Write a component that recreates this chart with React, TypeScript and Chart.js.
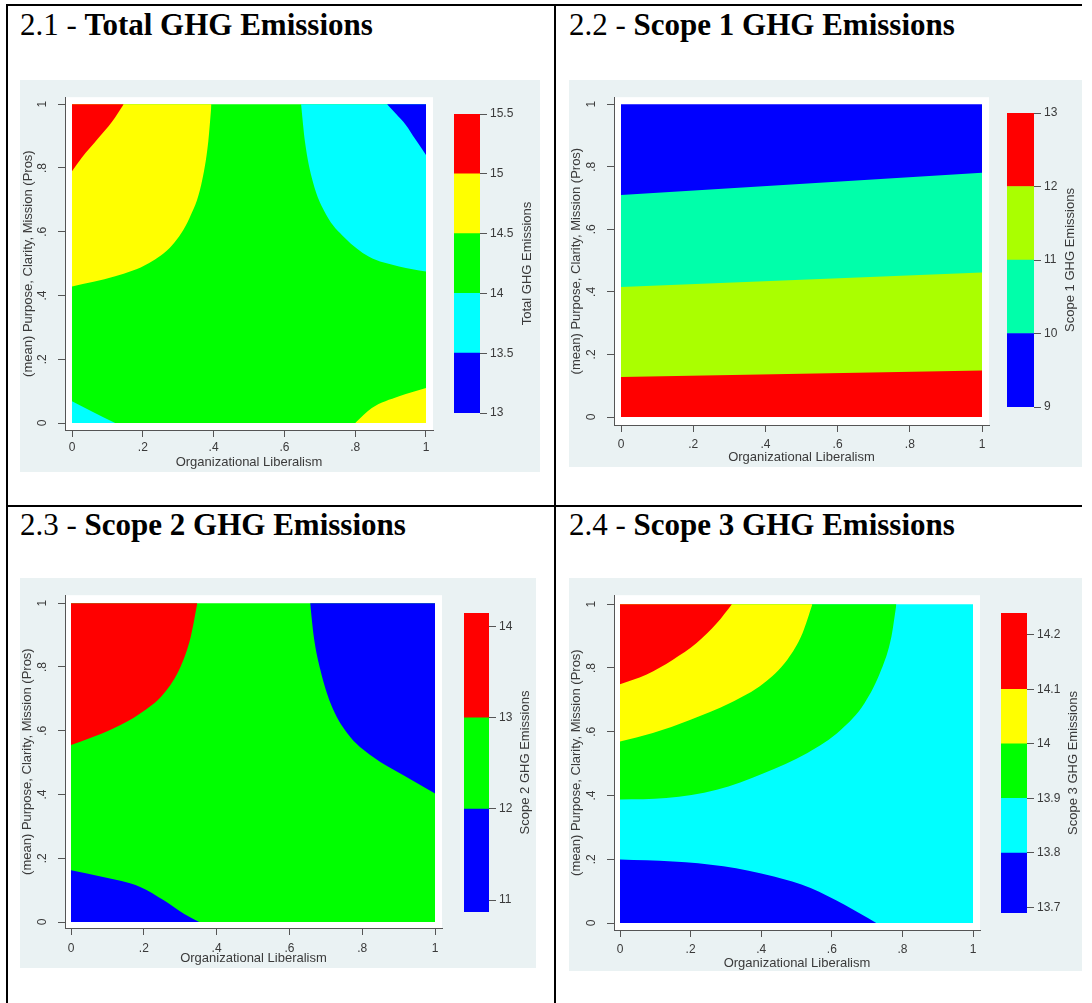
import React, { useEffect, useRef } from "react";
import { Chart, registerables } from "chart.js";
Chart.register(...registerables);

// ---------------- data ----------------
const xTickValues = [0, 0.2, 0.4, 0.6, 0.8, 1];
const xTickLabels = ["0", ".2", ".4", ".6", ".8", "1"];
const yTickValues = [0, 0.2, 0.4, 0.6, 0.8, 1];
const yTickLabels = ["0", ".2", ".4", ".6", ".8", "1"];
const xAxisTitle = "Organizational Liberalism";
const yAxisTitle = "(mean) Purpose, Clarity, Mission (Pros)";

const panelNumbers = ["2.1", "2.2", "2.3", "2.4"];
const panelNames = ["Total GHG Emissions", "Scope 1 GHG Emissions", "Scope 2 GHG Emissions", "Scope 3 GHG Emissions"];

// 2.1 Total GHG Emissions
const totalBandEdges = [13, 13.5, 14, 14.5, 15, 15.5];
const totalZTicks = [13, 13.5, 14, 14.5, 15, 15.5];
const totalZTickLabels = ["13", "13.5", "14", "14.5", "15", "15.5"];
const total150TopLeft = [[0, 0.79], [0.027, 0.831], [0.074, 0.893], [0.113, 0.945], [0.146, 1]];
const total145TopLeft = [[0, 0.428], [0.122, 0.46], [0.218, 0.502], [0.284, 0.559], [0.332, 0.643], [0.365, 0.747], [0.385, 0.883], [0.394, 1]];
const total135TopRight = [[0.89, 1], [0.915, 0.97], [0.943, 0.935], [0.97, 0.89], [1, 0.841]];
const total140TopRight = [[0.647, 1], [0.658, 0.883], [0.68, 0.758], [0.718, 0.653], [0.771, 0.58], [0.838, 0.522], [0.924, 0.491], [1, 0.475]];
const total140BottomLeft = [[0, 0.068], [0.055, 0.037], [0.122, 0]];
const total145BottomRight = [[0.8, 0], [0.847, 0.047], [0.924, 0.084], [1, 0.11]];

// 2.2 Scope 1
const scope1BandEdges = [9, 10, 11, 12, 13];
const scope1ZTicks = [9, 10, 11, 12, 13];
const scope1ZTickLabels = ["9", "10", "11", "12", "13"];
const scope1Line12 = [[0, 0.128], [1, 0.149]];
const scope1Line11 = [[0, 0.416], [1, 0.462]];
const scope1Line10 = [[0, 0.71], [1, 0.781]];

// 2.3 Scope 2
const scope2BandEdges = [10.87, 12, 13, 14.15];
const scope2ZTicks = [11, 12, 13, 14];
const scope2ZTickLabels = ["11", "12", "13", "14"];
const scope2C13TopLeft = [[0, 0.555], [0.051, 0.576], [0.116, 0.607], [0.19, 0.654], [0.255, 0.717], [0.301, 0.801], [0.329, 0.895], [0.347, 1]];
const scope2C12TopRight = [[0.657, 1], [0.667, 0.895], [0.685, 0.791], [0.713, 0.686], [0.759, 0.592], [0.829, 0.518], [0.912, 0.461], [1, 0.403]];
const scope2C12BottomLeft = [[0, 0.162], [0.088, 0.141], [0.19, 0.11], [0.255, 0.068], [0.31, 0.026], [0.352, 0]];

// 2.4 Scope 3
const scope3BandEdges = [13.69, 13.8, 13.9, 14.0, 14.1, 14.24];
const scope3ZTicks = [13.7, 13.8, 13.9, 14.0, 14.1, 14.2];
const scope3ZTickLabels = ["13.7", "13.8", "13.9", "14", "14.1", "14.2"];
const scope3C141 = [[0, 0.749], [0.074, 0.779], [0.15, 0.826], [0.217, 0.878], [0.274, 0.94], [0.317, 1]];
const scope3C140 = [[0, 0.569], [0.093, 0.596], [0.198, 0.637], [0.312, 0.69], [0.407, 0.752], [0.474, 0.826], [0.517, 0.909], [0.545, 1]];
const scope3C139 = [[0, 0.387], [0.131, 0.392], [0.274, 0.418], [0.407, 0.47], [0.531, 0.533], [0.626, 0.606], [0.693, 0.69], [0.74, 0.794], [0.769, 0.899], [0.783, 1]];
const scope3C138 = [[0, 0.199], [0.15, 0.193], [0.293, 0.178], [0.436, 0.146], [0.54, 0.11], [0.636, 0.057], [0.726, 0]];

// ---------------- styles ----------------
const RED = "#FF0000";
const YELLOW = "#FFFF00";
const GREEN = "#00FF00";
const CYAN = "#00FFFF";
const BLUE = "#0000FF";
const SPRING = "#00FFAA";
const LIME = "#AAFF00";
const GRAPH_BG = "#EAF2F3";
const TEXT = "#3a3a3a";
const AXIS = "#555555";
const SANS = '"Liberation Sans", Arial, sans-serif';

const totalColors = [BLUE, CYAN, GREEN, YELLOW, RED];
const scope1Colors = [BLUE, SPRING, LIME, RED];
const scope2Colors = [BLUE, GREEN, RED];
const scope3Colors = [BLUE, CYAN, GREEN, YELLOW, RED];

// region: curve, side it fills to (domain edge 0 or 1), band index. Listed top-most first.
const panelData = [
  {
    regions: [
      { pts: total150TopLeft, to: 1, band: 4 },
      { pts: total145TopLeft, to: 1, band: 3 },
      { pts: total135TopRight, to: 1, band: 0 },
      { pts: total140TopRight, to: 1, band: 1 },
      { pts: total140BottomLeft, to: 0, band: 1 },
      { pts: total145BottomRight, to: 0, band: 3 },
    ],
    background: 2,
    edges: totalBandEdges, colors: totalColors, zTicks: totalZTicks, zTickLabels: totalZTickLabels,
  },
  {
    regions: [
      { pts: scope1Line12, to: 0, band: 3 },
      { pts: scope1Line11, to: 0, band: 2 },
      { pts: scope1Line10, to: 0, band: 1 },
    ],
    background: 0,
    edges: scope1BandEdges, colors: scope1Colors, zTicks: scope1ZTicks, zTickLabels: scope1ZTickLabels,
  },
  {
    regions: [
      { pts: scope2C13TopLeft, to: 1, band: 2 },
      { pts: scope2C12TopRight, to: 1, band: 0 },
      { pts: scope2C12BottomLeft, to: 0, band: 0 },
    ],
    background: 1,
    edges: scope2BandEdges, colors: scope2Colors, zTicks: scope2ZTicks, zTickLabels: scope2ZTickLabels,
  },
  {
    regions: [
      { pts: scope3C141, to: 1, band: 4 },
      { pts: scope3C140, to: 1, band: 3 },
      { pts: scope3C139, to: 1, band: 2 },
      { pts: scope3C138, to: 0, band: 0 },
    ],
    background: 1,
    edges: scope3BandEdges, colors: scope3Colors, zTicks: scope3ZTicks, zTickLabels: scope3ZTickLabels,
  },
];

// ---------------- layout (pixels, relative to each graph box) ----------------
const LAYOUT = [
  { left: 20, top: 80, w: 520, h: 392, wl: 45, wr: 413, wt: 17, wb: 350, dl: 52, dr: 406, dt: 24, db: 343, cbl: 434, cbr: 460, cbt: 34, cbb: 333, cbTitleX: 507, yTitleX: 8, yLabelX: 23, xLabelY: 366, xTitleY: 382 },
  { left: 569, top: 80, w: 513, h: 387, wl: 45, wr: 420, wt: 17, wb: 345, dl: 52, dr: 413, dt: 24, db: 337, cbl: 438, cbr: 465, cbt: 33, cbb: 327, cbTitleX: 501, yTitleX: 7, yLabelX: 23, xLabelY: 363, xTitleY: 377 },
  { left: 20, top: 578, w: 516, h: 390, wl: 45, wr: 422, wt: 17, wb: 350, dl: 51, dr: 415, dt: 25, db: 344, cbl: 444, cbr: 469, cbt: 35, cbb: 334, cbTitleX: 505, yTitleX: 7, yLabelX: 23, xLabelY: 369, xTitleY: 380 },
  { left: 569, top: 578, w: 513, h: 393, wl: 45, wr: 411, wt: 17, wb: 352, dl: 51, dr: 404, dt: 26, db: 345, cbl: 432, cbr: 458, cbt: 35, cbb: 335, cbTitleX: 504, yTitleX: 7, yLabelX: 23, xLabelY: 370, xTitleY: 385 },
];

const TITLE_POS = [
  { left: 20, top: 9 },
  { left: 569, top: 9 },
  { left: 20, top: 509 },
  { left: 569, top: 509 },
];

const TICK_LEN = 7;

const plotBgPlugin = {
  id: "plotBg",
  beforeDraw(chart: any) {
    const { ctx, chartArea } = chart;
    ctx.save();
    ctx.fillStyle = "#FFFFFF";
    ctx.fillRect(chartArea.left, chartArea.top, chartArea.right - chartArea.left, chartArea.bottom - chartArea.top);
    ctx.restore();
  },
};

function makeZTitlePlugin(text: string, x: number) {
  return {
    id: "zTitle",
    afterDraw(chart: any) {
      const { ctx, chartArea } = chart;
      ctx.save();
      ctx.translate(x, (chartArea.top + chartArea.bottom) / 2);
      ctx.rotate(-Math.PI / 2);
      ctx.font = `13px ${SANS}`;
      ctx.fillStyle = TEXT;
      ctx.textAlign = "center";
      ctx.textBaseline = "middle";
      ctx.fillText(text, 0, 0);
      ctx.restore();
    },
  };
}

function toXY(pts: number[][]) {
  return pts.map(([x, y]) => ({ x, y }));
}

function mainConfig(idx: number): any {
  const L = LAYOUT[idx];
  const P = panelData[idx];
  const xSpan = L.dr - L.dl;
  const ySpan = L.db - L.dt;
  const xMin = -(L.dl - L.wl) / xSpan;
  const xMax = 1 + (L.wr - L.dr) / xSpan;
  const yMin = -(L.wb - L.db) / ySpan;
  const yMax = 1 + (L.dt - L.wt) / ySpan;

  const datasets: any[] = P.regions.map((r) => ({
    data: toXY(r.pts),
    backgroundColor: P.colors[r.band],
    borderColor: "rgba(0,0,0,0)",
    borderWidth: 0,
    pointRadius: 0,
    pointHoverRadius: 0,
    fill: { value: r.to },
    cubicInterpolationMode: r.pts.length > 2 ? "monotone" : "default",
  }));
  datasets.push({
    data: [{ x: 0, y: 0 }, { x: 1, y: 0 }],
    backgroundColor: P.colors[P.background],
    borderColor: "rgba(0,0,0,0)",
    borderWidth: 0,
    pointRadius: 0,
    pointHoverRadius: 0,
    fill: { value: 1 },
  });

  return {
    type: "line",
    data: { datasets },
    options: {
      animation: false,
      responsive: false,
      maintainAspectRatio: false,
      events: [],
      layout: { padding: { left: 0, top: L.wt, right: L.w - L.wr, bottom: 0 } },
      plugins: { legend: { display: false }, tooltip: { enabled: false } },
      scales: {
        x: {
          type: "linear",
          min: xMin,
          max: xMax,
          afterBuildTicks: (s: any) => { s.ticks = xTickValues.map((v) => ({ value: v })); },
          afterFit: (s: any) => { s.height = L.h - L.wb; },
          ticks: {
            autoSkip: false,
            maxRotation: 0,
            minRotation: 0,
            padding: L.xLabelY - L.wb - TICK_LEN - 6,
            font: { family: SANS, size: 12 },
            color: TEXT,
            callback: (_v: any, i: number) => xTickLabels[i],
          },
          grid: { drawOnChartArea: false, drawTicks: true, tickLength: TICK_LEN, color: AXIS, lineWidth: 1 },
          border: { display: true, color: AXIS, width: 1 },
          title: {
            display: true,
            text: xAxisTitle,
            font: { family: SANS, size: 13 },
            color: TEXT,
            padding: { top: 0, bottom: L.h - L.xTitleY - 7.8 },
          },
        },
        y: {
          type: "linear",
          min: yMin,
          max: yMax,
          afterBuildTicks: (s: any) => { s.ticks = yTickValues.map((v) => ({ value: v })); },
          afterFit: (s: any) => { s.width = L.wl; },
          ticks: {
            autoSkip: false,
            minRotation: 90,
            maxRotation: 90,
            crossAlign: "center",
            padding: L.wl - TICK_LEN - L.yLabelX - 5,
            font: { family: SANS, size: 12 },
            color: TEXT,
            callback: (_v: any, i: number) => yTickLabels[i],
          },
          grid: { drawOnChartArea: false, drawTicks: true, tickLength: TICK_LEN, color: AXIS, lineWidth: 1 },
          border: { display: true, color: AXIS, width: 1 },
          title: {
            display: true,
            text: yAxisTitle,
            font: { family: SANS, size: 13 },
            color: TEXT,
            padding: { top: L.yTitleX - 7.8, bottom: 0 },
          },
        },
      },
    },
    plugins: [plotBgPlugin],
  };
}

function colorbarConfig(idx: number): any {
  const L = LAYOUT[idx];
  const P = panelData[idx];
  const edges = P.edges;
  const datasets = P.colors.map((c, i) => ({
    data: [[edges[i], edges[i + 1]]],
    backgroundColor: c,
    borderWidth: 0,
    grouped: false,
    barPercentage: 1,
    categoryPercentage: 1,
  }));
  return {
    type: "bar",
    data: { labels: [""], datasets },
    options: {
      animation: false,
      responsive: false,
      maintainAspectRatio: false,
      events: [],
      layout: { padding: { left: L.cbl, top: L.cbt, right: 0, bottom: L.h - L.cbb } },
      plugins: { legend: { display: false }, tooltip: { enabled: false } },
      scales: {
        x: { display: false },
        y: {
          position: "right",
          min: edges[0],
          max: edges[edges.length - 1],
          afterBuildTicks: (s: any) => { s.ticks = P.zTicks.map((v) => ({ value: v })); },
          afterFit: (s: any) => { s.width = L.w - L.cbr; },
          ticks: {
            autoSkip: false,
            padding: 3,
            font: { family: SANS, size: 12 },
            color: TEXT,
            callback: (_v: any, i: number) => P.zTickLabels[i],
          },
          grid: { drawOnChartArea: false, drawTicks: true, tickLength: TICK_LEN, color: AXIS, lineWidth: 1 },
          border: { display: false },
        },
      },
    },
    plugins: [makeZTitlePlugin(panelNames[idx], L.cbTitleX)],
  };
}

function Graph({ idx }: { idx: number }) {
  const mainRef = useRef<HTMLCanvasElement | null>(null);
  const cbRef = useRef<HTMLCanvasElement | null>(null);
  useEffect(() => {
    const c1 = new Chart(mainRef.current as HTMLCanvasElement, mainConfig(idx));
    const c2 = new Chart(cbRef.current as HTMLCanvasElement, colorbarConfig(idx));
    return () => {
      c1.destroy();
      c2.destroy();
    };
  }, [idx]);
  const L = LAYOUT[idx];
  const cs: React.CSSProperties = { position: "absolute", left: 0, top: 0, width: L.w, height: L.h };
  return (
    <div style={{ position: "absolute", left: L.left, top: L.top, width: L.w, height: L.h, background: GRAPH_BG }}>
      <canvas ref={mainRef} width={L.w} height={L.h} style={cs} />
      <canvas ref={cbRef} width={L.w} height={L.h} style={cs} />
    </div>
  );
}

export default function App() {
  const line = (l: number, t: number, w: number, h: number) => (
    <div style={{ position: "absolute", left: l, top: t, width: w, height: h, background: "#000" }} />
  );
  return (
    <div style={{ position: "absolute", left: 0, top: 0, width: 1092, height: 1003, overflow: "hidden", background: "#fff" }}>
      {line(6, 4, 1076, 2)}
      {line(6, 4, 2, 1003)}
      {line(554, 4, 2, 1003)}
      {line(6, 505, 1076, 2)}
      {panelNumbers.map((n, i) => (
        <div
          key={n}
          style={{
            position: "absolute",
            left: TITLE_POS[i].left,
            top: TITLE_POS[i].top,
            fontFamily: '"Liberation Serif", "Times New Roman", serif',
            fontSize: 31,
            lineHeight: "31px",
            whiteSpace: "nowrap",
            color: "#000",
          }}
        >
          {n} - <b>{panelNames[i]}</b>
        </div>
      ))}
      {[0, 1, 2, 3].map((i) => (
        <Graph key={i} idx={i} />
      ))}
    </div>
  );
}
